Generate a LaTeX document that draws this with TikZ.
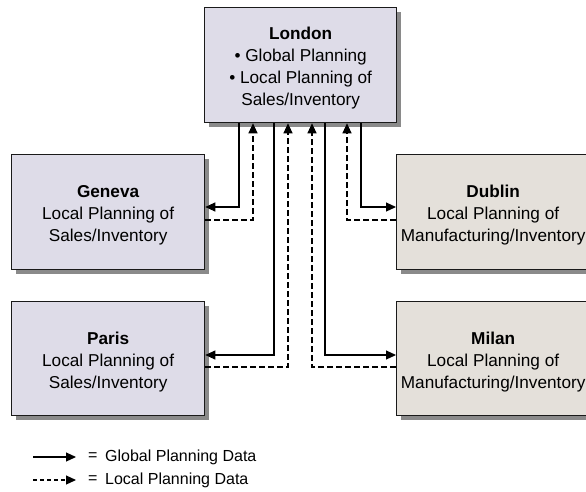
\documentclass[tikz,border=0pt]{standalone}
\usepackage{fontspec}
\setmainfont{Liberation Sans}
\usetikzlibrary{arrows.meta,shadows}
\definecolor{lav}{HTML}{DEDCE8}
\definecolor{beige}{HTML}{E4E0DA}
\definecolor{shd}{HTML}{8A8A8A}
\definecolor{edge}{HTML}{1A1A1A}
\tikzset{
 box/.style={draw=edge, line width=1.3pt, anchor=north west, minimum width=193pt, minimum height=115pt, inner sep=0pt, drop shadow={shadow xshift=4pt, shadow yshift=-4pt, fill=shd, opacity=1}},
 lavbox/.style={box, fill=lav},
 begbox/.style={box, fill=beige},
 txt/.style={align=center, font=\fontsize{17.2}{22}\selectfont, inner sep=0pt},
 conn/.style={line width=1.1pt, draw=black, -{Triangle[length=10pt,width=9pt]}},
 glob/.style={conn},
 loc/.style={conn, dash pattern=on 6pt off 3pt},
 lbl/.style={font=\fontsize{16}{19}\selectfont, inner sep=0pt, anchor=west}
}
\begin{document}
\begin{tikzpicture}[x=1pt,y=-1pt]
\useasboundingbox (0,0) rectangle (586,491);
\node[lavbox, minimum width=192pt] (london) at (204,7) {};
\node[lavbox] (geneva) at (11,154) {};
\node[lavbox, minimum height=114pt] (paris) at (11,301) {};
\node[begbox] (dublin) at (396,154) {};
\node[begbox, minimum height=114pt] (milan) at (396,301) {};
\node[txt] (londontxt) at ([yshift=-2.5pt]london.center) {\textbf{London}\\• Global Planning\\• Local Planning of\\Sales/Inventory};
\node[txt] (genevatxt) at ([yshift=-3pt]geneva.center) {\textbf{Geneva}\\Local Planning of\\Sales/Inventory};
\node[txt] (paristxt) at ([yshift=-3pt]paris.center) {\textbf{Paris}\\Local Planning of\\Sales/Inventory};
\node[txt] (dublintxt) at ([yshift=-3pt]dublin.center) {\textbf{Dublin}\\Local Planning of\\Manufacturing/Inventory};
\node[txt] (milantxt) at ([yshift=-3pt]milan.center) {\textbf{Milan}\\Local Planning of\\Manufacturing/Inventory};
\coordinate (xa) at (239,0);
\coordinate (xb) at (253,0);
\coordinate (xc) at (274,0);
\coordinate (xd) at (288,0);
\coordinate (xe) at (312,0);
\coordinate (xf) at (325,0);
\coordinate (xg) at (347,0);
\coordinate (xh) at (361,0);
\coordinate (ya) at (0,207);
\coordinate (yb) at (0,220);
\coordinate (yc) at (0,355);
\coordinate (yd) at (0,367);
\draw[glob] (london.south -| xa) |- (geneva.east |- ya);
\draw[loc] (geneva.east |- yb) -| (london.south -| xb);
\draw[glob] (london.south -| xc) |- (paris.east |- yc);
\draw[loc] (paris.east |- yd) -| (london.south -| xd);
\draw[glob] (london.south -| xh) |- (dublin.west |- ya);
\draw[loc] (dublin.west |- yb) -| (london.south -| xg);
\draw[glob] (london.south -| xf) |- (milan.west |- yc);
\draw[loc] (milan.west |- yd) -| (london.south -| xe);
% legend
\coordinate (l1s) at (33,457);
\coordinate (l1e) at (76,457);
\coordinate (l2s) at (33,480);
\coordinate (l2e) at (76,480);
\draw[glob] (l1s) -- (l1e);
\draw[loc, dash pattern=on 4pt off 3pt] (l2s) -- (l2e);
\node[lbl] (eq1) at (88,457) {=};
\node[lbl] (eq2) at (88,480) {=};
\node[lbl] (t1) at (105,457) {Global Planning Data};
\node[lbl] (t2) at (105,480) {Local Planning Data};
\end{tikzpicture}
\end{document}
